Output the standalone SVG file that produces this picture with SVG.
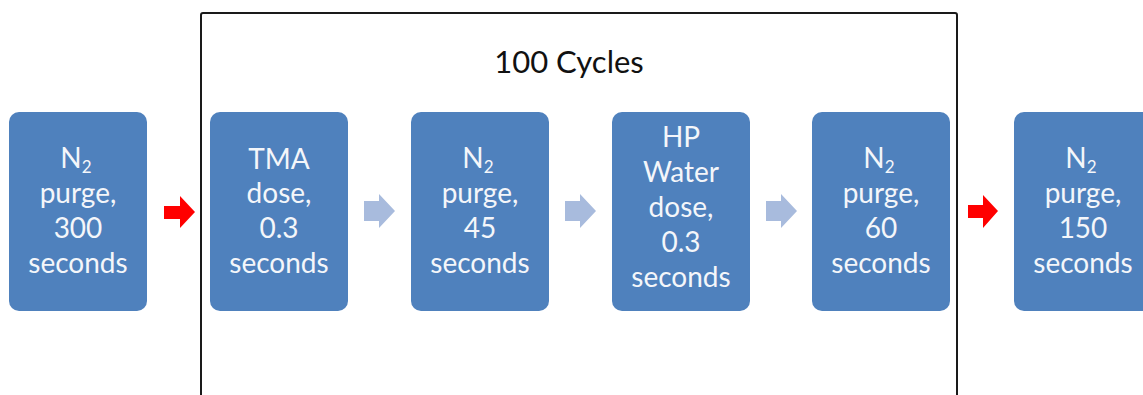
<svg xmlns="http://www.w3.org/2000/svg" width="1143" height="395" viewBox="0 0 1143 395">
<style>
.box{fill:#4f81bd;}
.t{font-family:Lato,"Open Sans",sans-serif;font-size:28px;fill:#f4f6fa;text-anchor:middle;}
.sub{font-size:17px;}
.title{font-family:Lato,"Open Sans",sans-serif;font-size:31px;fill:#111;text-anchor:middle;}
.red{fill:#ff0000;}
.lite{fill:#a8bbdd;}
</style>
<rect width="1143" height="395" fill="#ffffff"/>
<g id="cycle-frame">
<rect x="201" y="13" width="756" height="400" rx="2" fill="none" stroke="#1a1a1a" stroke-width="2"/>
<text class="title" x="569" y="73">100 Cycles</text>
</g>
<g id="n1">
<rect class="box" x="9" y="112" width="138" height="199" rx="10"/>
<text class="t" x="76" y="168">N<tspan class="sub" dy="5">2</tspan></text>
<text class="t"><tspan x="78" y="203">purge,</tspan><tspan x="78" y="238">300</tspan><tspan x="78" y="273">seconds</tspan></text>
</g>
<g id="n2">
<rect class="box" x="210" y="112" width="138" height="199" rx="10"/>
<text class="t"><tspan x="279" y="169">TMA</tspan><tspan x="279" y="203">dose,</tspan><tspan x="279" y="238">0.3</tspan><tspan x="279" y="273">seconds</tspan></text>
</g>
<g id="n3">
<rect class="box" x="411" y="112" width="138" height="199" rx="10"/>
<text class="t" x="478" y="168">N<tspan class="sub" dy="5">2</tspan></text>
<text class="t"><tspan x="480" y="203">purge,</tspan><tspan x="480" y="238">45</tspan><tspan x="480" y="273">seconds</tspan></text>
</g>
<g id="n4">
<rect class="box" x="612" y="112" width="138" height="199" rx="10"/>
<text class="t"><tspan x="681" y="147">HP</tspan><tspan x="681" y="182">Water</tspan><tspan x="681" y="217">dose,</tspan><tspan x="681" y="252">0.3</tspan><tspan x="681" y="287">seconds</tspan></text>
</g>
<g id="n5">
<rect class="box" x="812" y="112" width="138" height="199" rx="10"/>
<text class="t" x="879" y="168">N<tspan class="sub" dy="5">2</tspan></text>
<text class="t"><tspan x="881" y="203">purge,</tspan><tspan x="881" y="238">60</tspan><tspan x="881" y="273">seconds</tspan></text>
</g>
<g id="n6">
<rect class="box" x="1014" y="112" width="150" height="199" rx="10"/>
<text class="t" x="1081" y="168">N<tspan class="sub" dy="5">2</tspan></text>
<text class="t"><tspan x="1083" y="203">purge,</tspan><tspan x="1083" y="238">150</tspan><tspan x="1083" y="273">seconds</tspan></text>
</g>
<g id="connectors">
<polygon class="red" points="164,206 180,206 180,196 195,212 180,228 180,219 164,219"/>
<polygon class="lite" points="364,201 379,201 379,194 395,211 379,228 379,221 364,221"/>
<polygon class="lite" points="565,201 580,201 580,194 596,211 580,228 580,221 565,221"/>
<polygon class="lite" points="766,201 781,201 781,194 797,211 781,228 781,221 766,221"/>
<polygon class="red" points="968,205 983,205 983,195 998,211 983,228 983,218 968,218"/>
</g>
</svg>
